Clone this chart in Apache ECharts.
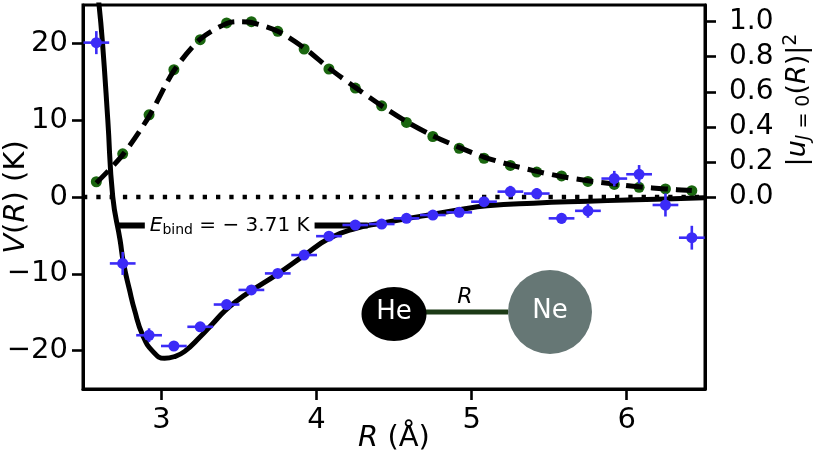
<!DOCTYPE html>
<html>
<head>
<meta charset="utf-8">
<script src="https://cdn.jsdelivr.net/npm/echarts@6.0.0/dist/echarts.min.js"></script>
<style>
  html, body { margin: 0; padding: 0; background: #fff; }
  #chart { width: 816px; height: 452px; }
</style>
</head>
<body>
<div id="chart"></div>
<script>
// bin centres (Å) of the measured points
var binR = [2.58, 2.75, 2.92, 3.08, 3.25, 3.42, 3.58, 3.75, 3.92, 4.08, 4.25, 4.42,
            4.58, 4.75, 4.92, 5.08, 5.25, 5.42, 5.58, 5.75, 5.92, 6.08, 6.25, 6.42];
var binHalfWidth = 0.083;
// measured V(R) (K) and its error
var potMeasured = [20.1, -8.65, -18.0, -19.4, -16.9, -14.0, -12.1, -9.95, -7.56, -5.1, -3.65, -3.52,
                   -2.78, -2.35, -2.0, -0.61, 0.7, 0.45, -2.78, -1.8, 2.4, 2.96, -1.04, -5.3];
var potErr = [1.5, 1.5, 0.9, 0.4, 0.3, 0.3, 0.3, 0.3, 0.3, 0.3, 0.3, 0.3,
              0.3, 0.3, 0.3, 0.5, 0.75, 0.7, 0.7, 0.9, 1.0, 1.2, 1.5, 1.55];
// measured |u|^2 (green dots)
var waveMeasured = [0.087, 0.246, 0.469, 0.726, 0.897, 0.993, 1.0, 0.945, 0.844, 0.73, 0.621, 0.52,
                    0.425, 0.345, 0.278, 0.221, 0.18, 0.142, 0.12, 0.089, 0.072, 0.055, 0.046, 0.036];

// theory potential curve (solid)
var curveR = [2.595, 2.62, 2.654, 2.686, 2.733, 2.755, 2.794, 2.826, 2.879, 2.944, 3.02, 3.08,
              3.15, 3.25, 3.33, 3.41, 3.5, 3.58, 3.75, 3.92, 4.08, 4.25, 4.42, 4.6,
              4.75, 4.92, 5.1, 5.4, 5.75, 6.0, 6.25, 6.5];
var curveV = [25.5, 20, 10, 0, -5.6, -8.6, -12.1, -14.7, -18.0, -20.1, -21.0, -20.8,
              -20.1, -18.2, -16.5, -14.8, -13.3, -12.2, -10.0, -7.6, -5.4, -4.1, -3.4, -2.75,
              -2.25, -1.65, -1.15, -0.8, -0.55, -0.4, -0.25, -0.1];
// theory |u|^2 curve (dashed)
var waveR = [2.58, 2.75, 2.92, 3.08, 3.25, 3.42, 3.5, 3.58, 3.75, 3.92, 4.08, 4.25, 4.42,
             4.58, 4.75, 4.92, 5.08, 5.25, 5.42, 5.58, 5.75, 5.92, 6.08, 6.25, 6.42];
var waveU = [0.08, 0.24, 0.46, 0.72, 0.9, 0.99, 1.0, 0.995, 0.945, 0.85, 0.735, 0.625, 0.52,
             0.43, 0.35, 0.283, 0.228, 0.183, 0.146, 0.117, 0.093, 0.074, 0.058, 0.046, 0.037];

var eBind = -3.71;
var eBindR = [2.72, 4.33];

var xTicks = [3, 4, 5, 6];
var yTicks = [-20, -10, 0, 10, 20];
var y2Ticks = [0, 0.2, 0.4, 0.6, 0.8, 1.0];

var FONT = 'DejaVu Sans';
var FS = 29;
var BLUE = '#3b2bf7';
var GREEN = '#1a660f';

function minus(v) { return v < 0 ? '\u2212' + (-v) : '' + v; }

var chart = echarts.init(document.getElementById('chart'));

var axisCommon = {
  type: 'value',
  splitLine: { show: false },
  nameMoveOverlap: false,
  axisLine: { show: true, onZero: false, lineStyle: { color: '#000', width: 3 } },
};
var italic = { i: { fontSize: FS, fontFamily: FONT, fontStyle: 'italic', color: '#000' } };

chart.setOption({
  animation: false,
  grid: { left: 83, right: 111, top: 5, bottom: 63, outerBoundsMode: 'none', containLabel: false,
          show: true, borderColor: '#000', borderWidth: 3 },
  xAxis: Object.assign({}, axisCommon, {
    min: 2.494, max: 6.505,
    axisTick: { customValues: xTicks, length: 11, lineStyle: { color: '#000', width: 2.6 } },
    axisLabel: { customValues: xTicks, fontSize: FS, fontFamily: FONT, color: '#000', margin: 17 },
    name: '{i|R} (Å)', nameLocation: 'middle', nameGap: 35,
    nameTextStyle: { fontSize: FS, fontFamily: FONT, color: '#000', rich: italic }
  }),
  yAxis: [
    Object.assign({}, axisCommon, {
      min: -25, max: 25, position: 'left',
      axisTick: { customValues: yTicks, length: 11, lineStyle: { color: '#000', width: 2.6 } },
      axisLabel: { customValues: yTicks, fontSize: FS, fontFamily: FONT, color: '#000', margin: 15,
        formatter: function (v) { return minus(v); } },
      name: '{i|V}({i|R}) (K)', nameLocation: 'middle', nameGap: 52,
      nameTextStyle: { fontSize: FS, fontFamily: FONT, color: '#000', rich: italic }
    }),
    Object.assign({}, axisCommon, {
      min: -1.095, max: 1.095, position: 'right',
      axisTick: { customValues: y2Ticks, length: 11, lineStyle: { color: '#000', width: 2.6 } },
      axisLabel: { customValues: y2Ticks, fontSize: 28, fontFamily: FONT, color: '#000', margin: 24,
        formatter: function (v) { return v.toFixed(1); } }
    })
  ],
  series: [
    {
      // dotted zero line
      type: 'line', data: [], z: 1,
      markLine: {
        silent: true, symbol: ['none', 'none'], label: { show: false },
        lineStyle: { color: '#000', width: 4.3, type: [4.3, 9] },
        emphasis: { disabled: true },
        data: [{ yAxis: 0 }]
      }
    },
    {
      type: 'scatter', yAxisIndex: 1, z: 2,
      symbolSize: 11, itemStyle: { color: GREEN, opacity: 1 },
      data: binR.map(function (r, i) { return [r, waveMeasured[i]]; })
    },
    {
      type: 'line', yAxisIndex: 1, z: 3, showSymbol: false, smooth: 0.3,
      lineStyle: { color: '#000', width: 5, type: [17, 8] },
      data: waveR.map(function (r, i) { return [r, waveU[i]]; })
    },
    {
      type: 'line', z: 4, showSymbol: false, smooth: 0.5,
      lineStyle: { color: '#000', width: 5 },
      data: curveR.map(function (r, i) { return [r, curveV[i]]; })
    },
    {
      type: 'line', z: 5, showSymbol: false,
      lineStyle: { color: '#000', width: 6 },
      data: eBindR.map(function (r) { return [r, eBind]; })
    },
    {
      // E_bind label, drawn above its line with a white box
      type: 'scatter', z: 8, symbol: 'rect', symbolSize: 1,
      itemStyle: { color: '#fff', opacity: 1 },
      label: {
        show: true, position: 'inside', color: '#000', fontSize: 20, fontFamily: FONT,
        backgroundColor: '#fff', padding: [2, 5],
        formatter: '{i|E}{s|bind} = \u2212 ' + Math.abs(eBind).toFixed(2) + ' K',
        rich: {
          i: { fontSize: 20, fontFamily: FONT, fontStyle: 'italic', color: '#000', verticalAlign: 'middle' },
          s: { fontSize: 14, fontFamily: FONT, color: '#000', padding: [10, 0, 0, 0], verticalAlign: 'middle' }
        }
      },
      data: [[3.44, eBind]]
    },
    {
      type: 'custom', z: 6,
      renderItem: function (params, api) {
        var r = api.value(0), v = api.value(1), dr = api.value(2), dv = api.value(3);
        var a = api.coord([r - dr, v]), b = api.coord([r + dr, v]);
        var c = api.coord([r, v - dv]), d = api.coord([r, v + dv]);
        var st = { stroke: BLUE, lineWidth: 2.6 };
        return {
          type: 'group',
          children: [
            { type: 'line', shape: { x1: a[0], y1: a[1], x2: b[0], y2: b[1] }, style: st },
            { type: 'line', shape: { x1: c[0], y1: c[1], x2: d[0], y2: d[1] }, style: st }
          ]
        };
      },
      encode: { x: 0, y: 1 },
      data: binR.map(function (r, i) { return [r, potMeasured[i], binHalfWidth, potErr[i]]; })
    },
    {
      type: 'scatter', z: 7,
      symbolSize: 11, itemStyle: { color: BLUE, opacity: 1 },
      data: binR.map(function (r, i) { return [r, potMeasured[i]]; })
    }
  ],
  graphic: [
    { type: 'line', shape: { x1: 426, y1: 312, x2: 508, y2: 312 }, style: { stroke: '#1c3a16', lineWidth: 5 }, z: 10 },
    { type: 'ellipse', shape: { cx: 394, cy: 314, rx: 32.5, ry: 27 }, style: { fill: '#000' }, z: 11 },
    { type: 'circle', shape: { cx: 550, cy: 312, r: 42 }, style: { fill: '#667775' }, z: 11 },
    { type: 'text', x: 394, y: 312, z: 12,
      style: { text: 'He', fill: '#fff', font: '26px "DejaVu Sans"', align: 'center', verticalAlign: 'middle' } },
    { type: 'text', x: 550, y: 311, z: 12,
      style: { text: 'Ne', fill: '#fff', font: '26px "DejaVu Sans"', align: 'center', verticalAlign: 'middle' } },
    { type: 'text', x: 465, y: 297, z: 12,
      style: { text: 'R', fill: '#000', font: 'italic 22px "DejaVu Sans"', align: 'center', verticalAlign: 'middle' } },
    { type: 'text', x: 798, y: 100, rotation: Math.PI / 2, z: 12,
      style: {
        text: '|{i|u}{si|J}{s| = 0}({i|R})|{p|2}',
        fill: '#000', font: '27px "DejaVu Sans"', align: 'center', verticalAlign: 'middle',
        rich: {
          i: { fontSize: 27, fontFamily: FONT, fontStyle: 'italic', fill: '#000', verticalAlign: 'middle' },
          si: { fontSize: 19, fontFamily: FONT, fontStyle: 'italic', fill: '#000', padding: [12, 0, 0, 0], verticalAlign: 'middle' },
          s: { fontSize: 19, fontFamily: FONT, fill: '#000', padding: [12, 0, 0, 0], verticalAlign: 'middle' },
          p: { fontSize: 19, fontFamily: FONT, fill: '#000', padding: [0, 0, 14, 0], verticalAlign: 'middle' }
        }
      }
    }
  ]
});
</script>
</body>
</html>
